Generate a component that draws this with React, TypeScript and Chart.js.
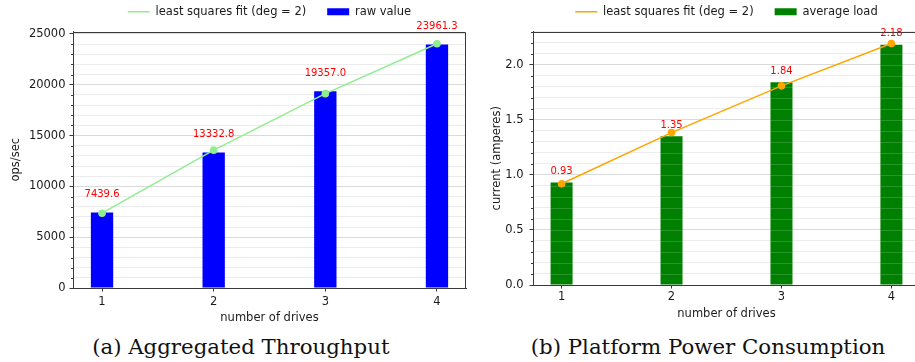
import React, { useEffect, useRef } from 'react';
import { Chart, registerables } from 'chart.js';

Chart.register(...registerables);

// ---------- data ----------
const DRIVES = [1, 2, 3, 4];
const THROUGHPUT = [7439.6, 13332.8, 19357.0, 23961.3];
const THROUGHPUT_FIT = [7362, 13565, 19124, 24039];
const THROUGHPUT_MAJOR_TICKS = [0, 5000, 10000, 15000, 20000, 25000];
const THROUGHPUT_MINOR_STEP = 1000;

const CURRENT = [0.93, 1.35, 1.84, 2.18];
const CURRENT_FIT = [0.919, 1.383, 1.807, 2.191];
const CURRENT_MAJOR_TICKS = [0, 0.5, 1.0, 1.5, 2.0];
const CURRENT_MINOR_STEP = 0.1;

const FONT = "'DejaVu Sans', sans-serif";
const TEXT = '#1a1a1a';
const SPINE = '#3a3a3a';
const GRID_MAJOR = '#dadada';
const GRID_MINOR = '#ececec';

type Spec = {
  lineLabel: string;
  barLabel: string;
  lineColor: string;
  barColor: string;
  fit: number[];
  values: number[];
  yMax: number;
  majorTicks: number[];
  minorStep: number;
  yTitle: string;
  yWidth: number;
  yTitlePad: number;
  yTickPad: number;
  xHeight: number;
  xTickPad: number;
  labelOffset: number;
  labelDigits: number;
  majorDigits: number;
  overlayGrid: boolean;
  spacer: number;
};

function makeConfig(spec: Spec): any {
  const allTicks: number[] = [];
  const n = Math.round(spec.yMax / spec.minorStep) + 1;
  for (let i = 0; i <= n; i++) {
    const v = parseFloat((i * spec.minorStep).toFixed(6));
    if (v <= spec.yMax) allTicks.push(v);
  }
  const isMajor = (v: number) => spec.majorTicks.some((m) => Math.abs(m - v) < 1e-9);
  const font = { family: FONT, size: 11.5 };

  const legendCenter = {
    id: 'legendCenter',
    afterLayout(chart: any) {
      const l = chart.legend;
      if (!l) return;
      l.left = chart.chartArea.left;
      l.right = chart.chartArea.right;
      l.width = l.right - l.left;
    },
  };

  const overlay = {
    id: 'overlayGrid',
    afterDatasetDraw(chart: any, args: any) {
      if (!spec.overlayGrid || args.index !== 1) return;
      const ctx = chart.ctx;
      const ys = chart.scales.y;
      args.meta.data.forEach((el: any) => {
        const p = el.getProps(['x', 'y', 'base', 'width'], true);
        ctx.save();
        ctx.beginPath();
        ctx.rect(p.x - p.width / 2, p.y, p.width, p.base - p.y);
        ctx.clip();
        ctx.strokeStyle = 'rgba(255,255,255,0.16)';
        ctx.lineWidth = 1;
        allTicks.forEach((v) => {
          const y = Math.round(ys.getPixelForValue(v)) + 0.5;
          ctx.beginPath();
          ctx.moveTo(p.x - p.width / 2, y);
          ctx.lineTo(p.x + p.width / 2, y);
          ctx.stroke();
        });
        ctx.restore();
      });
    },
  };

  const frame = {
    id: 'frame',
    afterDraw(chart: any) {
      const ctx = chart.ctx;
      const a = chart.chartArea;
      const ys = chart.scales.y;
      ctx.save();
      // minor tick marks
      ctx.strokeStyle = SPINE;
      ctx.lineWidth = 1;
      allTicks.forEach((v) => {
        if (isMajor(v)) return;
        const y = Math.round(ys.getPixelForValue(v)) + 0.5;
        ctx.beginPath();
        ctx.moveTo(a.left - 2, y);
        ctx.lineTo(a.left, y);
        ctx.stroke();
      });
      // top & right spines
      ctx.beginPath();
      ctx.moveTo(Math.round(a.left) + 0.5, Math.round(a.top) + 0.5);
      ctx.lineTo(Math.round(a.right) - 0.5, Math.round(a.top) + 0.5);
      ctx.lineTo(Math.round(a.right) - 0.5, Math.round(a.bottom));
      ctx.stroke();
      // value labels
      const meta = chart.getDatasetMeta(1);
      ctx.fillStyle = '#ff0000';
      ctx.font = `10px ${FONT}`;
      ctx.textAlign = 'center';
      ctx.textBaseline = 'middle';
      meta.data.forEach((el: any, i: number) => {
        const p = el.getProps(['x', 'y'], true);
        ctx.fillText(spec.values[i].toFixed(spec.labelDigits), p.x, p.y - spec.labelOffset);
      });
      ctx.restore();
    },
  };

  return {
    type: 'bar',
    data: {
      datasets: [
        {
          type: 'line',
          label: spec.lineLabel,
          data: DRIVES.map((x, i) => ({ x, y: spec.fit[i] })),
          borderColor: spec.lineColor,
          backgroundColor: spec.lineColor,
          borderWidth: 1.5,
          pointRadius: 3.8,
          pointBorderWidth: 0,
          pointBackgroundColor: spec.lineColor,
          tension: 0,
        },
        {
          type: 'bar',
          label: spec.barLabel,
          data: DRIVES.map((x, i) => ({ x, y: spec.values[i] })),
          backgroundColor: spec.barColor,
          borderWidth: 0,
          barPercentage: 0.2,
          categoryPercentage: 1,
        },
      ],
    },
    options: {
      animation: false,
      responsive: false,
      maintainAspectRatio: false,
      layout: { padding: 0 },
      plugins: {
        tooltip: { enabled: false },
        title: {
          display: true,
          text: '',
          position: 'top',
          weight: 500,
          font: { size: 1, lineHeight: 1 },
          padding: { top: spec.spacer - 1, bottom: 0 },
        },
        legend: {
          position: 'top',
          weight: 1000,
          labels: {
            usePointStyle: true,
            pointStyleWidth: 22,
            boxWidth: 22,
            boxHeight: 7,
            padding: 21,
            color: TEXT,
            font,
            generateLabels: (chart: any) => {
              const items = (Chart.defaults.plugins.legend.labels as any).generateLabels(chart);
              items.forEach((it: any, i: number) => {
                if (i === 0) {
                  it.pointStyle = 'line';
                  it.lineWidth = 1.5;
                  it.strokeStyle = spec.lineColor;
                } else {
                  it.pointStyle = 'rect';
                  it.lineWidth = 0;
                  it.fillStyle = spec.barColor;
                }
              });
              return items;
            },
          },
        },
      },
      scales: {
        x: {
          type: 'linear',
          min: 0.74,
          max: 4.26,
          offset: false,
          afterBuildTicks: (s: any) => {
            s.ticks = DRIVES.map((v) => ({ value: v }));
          },
          afterFit: (s: any) => {
            s.height = spec.xHeight;
          },
          grid: {
            offset: false,
            drawOnChartArea: false,
            tickLength: 3.5,
            tickColor: SPINE,
            color: 'rgba(0,0,0,0)',
          },
          border: { color: SPINE, width: 1 },
          ticks: {
            autoSkip: false,
            maxRotation: 0,
            padding: spec.xTickPad,
            color: TEXT,
            font,
            callback: (v: any) => String(v),
          },
          title: { display: true, text: 'number of drives', padding: 0, color: TEXT, font },
        },
        y: {
          type: 'linear',
          min: 0,
          max: spec.yMax,
          afterBuildTicks: (s: any) => {
            s.ticks = allTicks.map((v) => ({ value: v }));
          },
          afterFit: (s: any) => {
            s.width = spec.yWidth;
          },
          grid: {
            color: (c: any) => (c.tick && isMajor(c.tick.value) ? GRID_MAJOR : GRID_MINOR),
            lineWidth: 1,
            tickLength: 3.5,
            tickColor: (c: any) => (c.tick && isMajor(c.tick.value) ? SPINE : 'rgba(0,0,0,0)'),
          },
          border: { color: SPINE, width: 1 },
          ticks: {
            autoSkip: false,
            padding: spec.yTickPad,
            color: TEXT,
            font,
            callback: (v: any) => (isMajor(Number(v)) ? Number(v).toFixed(spec.majorDigits) : ''),
          },
          title: {
            display: true,
            text: spec.yTitle,
            padding: { top: spec.yTitlePad, bottom: 0 },
            color: TEXT,
            font,
          },
        },
      },
    },
    plugins: [legendCenter, overlay, frame],
  };
}

function ChartCanvas(props: { spec: Spec; left: number; top: number; width: number; height: number }) {
  const ref = useRef<HTMLCanvasElement | null>(null);
  useEffect(() => {
    if (!ref.current) return;
    const chart = new Chart(ref.current, makeConfig(props.spec));
    return () => chart.destroy();
  }, []);
  return (
    <canvas
      ref={ref}
      width={props.width}
      height={props.height}
      style={{
        position: 'absolute',
        left: props.left,
        top: props.top,
        width: props.width,
        height: props.height,
      }}
    />
  );
}

const leftSpec: Spec = {
  lineLabel: 'least squares fit (deg = 2)',
  barLabel: 'raw value',
  lineColor: '#90ee90',
  barColor: '#0000ff',
  fit: THROUGHPUT_FIT,
  values: THROUGHPUT,
  yMax: 25240,
  majorTicks: THROUGHPUT_MAJOR_TICKS,
  minorStep: THROUGHPUT_MINOR_STEP,
  yTitle: 'ops/sec',
  yWidth: 73,
  yTitlePad: 9.5,
  yTickPad: 4,
  xHeight: 37,
  xTickPad: 4,
  labelOffset: 18,
  labelDigits: 1,
  majorDigits: 0,
  overlayGrid: false,
  spacer: 4,
};

const rightSpec: Spec = {
  lineLabel: 'least squares fit (deg = 2)',
  barLabel: 'average load',
  lineColor: '#ffa500',
  barColor: '#008000',
  fit: CURRENT_FIT,
  values: CURRENT,
  yMax: 2.3,
  majorTicks: CURRENT_MAJOR_TICKS,
  minorStep: CURRENT_MINOR_STEP,
  yTitle: 'current (amperes)',
  yWidth: 53,
  yTitlePad: 10,
  yTickPad: 6,
  xHeight: 36,
  xTickPad: 1.5,
  labelOffset: 11,
  labelDigits: 2,
  majorDigits: 1,
  overlayGrid: true,
  spacer: 4,
};

const captionStyle: React.CSSProperties = {
  position: 'absolute',
  top: 334,
  width: 440,
  height: 26,
  lineHeight: '26px',
  textAlign: 'center',
  fontFamily: "'DejaVu Serif', serif",
  fontSize: 21.3,
  color: '#111',
  whiteSpace: 'nowrap',
};

export default function App() {
  return (
    <div
      style={{
        position: 'fixed',
        left: 0,
        top: 0,
        width: 915,
        height: 362,
        overflow: 'hidden',
        background: '#ffffff',
      }}
    >
      <ChartCanvas spec={leftSpec} left={0} top={-15} width={470} height={340} />
      <ChartCanvas spec={rightSpec} left={480} top={-15} width={444} height={336} />
      <div style={{ ...captionStyle, left: 240.8 - 220 }}>(a) Aggregated Throughput</div>
      <div style={{ ...captionStyle, left: 708 - 220 }}>(b) Platform Power Consumption</div>
    </div>
  );
}
